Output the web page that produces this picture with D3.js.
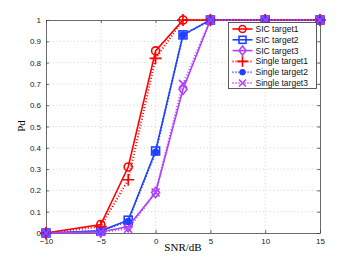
<!DOCTYPE html>
<html>
<head>
<meta charset="utf-8">
<script src="https://cdn.jsdelivr.net/npm/d3@7"></script>
<style>
  body { margin: 0; background: #fff; }
  svg { display: block; }
</style>
</head>
<body>
<svg width="354" height="262"></svg>
<script>
const svg = d3.select('svg');

const snr = [-10, -5, -2.5, 0, 2.5, 5, 10, 15];
const sic1 = [0, 0.04, 0.31, 0.855, 1, 1, 1, 1];
const sic2 = [0, 0.01, 0.06, 0.385, 0.93, 1, 1, 1];
const sic3 = [0, 0.005, 0.03, 0.19, 0.675, 1, 1, 1];
const single1 = [0, 0.03, 0.25, 0.82, 1, 1, 1, 1];
const single2 = [0, 0.01, 0.055, 0.38, 0.93, 1, 1, 1];
const single3 = [0, 0.005, 0.02, 0.19, 0.70, 1, 1, 1];
const xTicks = [-10, -5, 0, 5, 10, 15];
const yTicks = [0, 0.1, 0.2, 0.3, 0.4, 0.5, 0.6, 0.7, 0.8, 0.9, 1];

const red = '#ff0000', blue = '#2040ff', purple = '#b040ff';

const series = [
  { name: 'SIC target1', vals: sic1, color: red, marker: 'circle', dash: null },
  { name: 'SIC target2', vals: sic2, color: blue, marker: 'square', dash: null },
  { name: 'SIC target3', vals: sic3, color: purple, marker: 'diamond', dash: null },
  { name: 'Single target1', vals: single1, color: red, marker: 'plus', dash: '1,2' },
  { name: 'Single target2', vals: single2, color: blue, marker: 'dot', dash: '1,2' },
  { name: 'Single target3', vals: single3, color: purple, marker: 'cross', dash: '1,2' },
];

const x = d3.scaleLinear().domain([-10, 15]).range([46, 320]);
const y = d3.scaleLinear().domain([0, 1]).range([233, 20]);

// grid
const grid = svg.append('g')
  .attr('stroke', '#c8c8c8')
  .attr('stroke-width', 0.8)
  .attr('stroke-dasharray', '1,2.5');
grid.selectAll('.gx').data(xTicks.slice(1, -1)).enter().append('line')
  .attr('x1', d => x(d)).attr('x2', d => x(d))
  .attr('y1', y(0)).attr('y2', y(1));
grid.selectAll('.gy').data(yTicks.slice(1, -1)).enter().append('line')
  .attr('y1', d => y(d)).attr('y2', d => y(d))
  .attr('x1', x(-10)).attr('x2', x(15));

// axes with inward ticks
const fmt = d => d === 0 ? '0' : d3.format('')(d);
const axB = svg.append('g').attr('transform', `translate(0,${y(0)})`)
  .call(d3.axisBottom(x).tickValues(xTicks).tickSizeInner(-3).tickSizeOuter(0).tickPadding(5).tickFormat(fmt));
const axT = svg.append('g').attr('transform', `translate(0,${y(1)})`)
  .call(d3.axisTop(x).tickValues(xTicks).tickSizeInner(-3).tickSizeOuter(0).tickFormat(''));
const axL = svg.append('g').attr('transform', `translate(${x(-10)},0)`)
  .call(d3.axisLeft(y).tickValues(yTicks).tickSizeInner(-3).tickSizeOuter(0).tickPadding(5).tickFormat(fmt));
const axR = svg.append('g').attr('transform', `translate(${x(15)},0)`)
  .call(d3.axisRight(y).tickValues(yTicks).tickSizeInner(-3).tickSizeOuter(0).tickFormat(''));
[axB, axT, axL, axR].forEach(a => {
  a.selectAll('path, line').attr('stroke', '#444').attr('stroke-width', 0.8);
  a.selectAll('text').attr('fill', '#222')
    .style('font-family', 'Liberation Sans, Arial, sans-serif').style('font-size', '8px');
});

// marker drawing
function drawMarker(g, m, color, s) {
  if (m === 'circle') {
    g.append('circle').attr('r', s).attr('fill', 'none').attr('stroke', color).attr('stroke-width', 1.6);
  } else if (m === 'square') {
    g.append('rect').attr('x', -s).attr('y', -s).attr('width', 2 * s).attr('height', 2 * s)
      .attr('fill', 'none').attr('stroke', color).attr('stroke-width', 1.6);
  } else if (m === 'diamond') {
    g.append('path').attr('d', `M0,${-s * 1.3}L${s},0L0,${s * 1.3}L${-s},0Z`)
      .attr('fill', 'none').attr('stroke', color).attr('stroke-width', 1.6);
  } else if (m === 'plus') {
    g.append('path').attr('d', `M${-s * 1.5},0H${s * 1.5}M0,${-s * 1.5}V${s * 1.5}`)
      .attr('stroke', color).attr('stroke-width', 1.6);
  } else if (m === 'dot') {
    g.append('circle').attr('r', s * 0.9).attr('fill', color);
  } else if (m === 'cross') {
    g.append('path').attr('d', `M${-s},${-s}L${s},${s}M${-s},${s}L${s},${-s}`)
      .attr('stroke', color).attr('stroke-width', 1.6);
  }
}

const line = d3.line().x((d, i) => x(snr[i])).y(d => y(d));

series.forEach(s => {
  const g = svg.append('g');
  g.append('path').datum(s.vals)
    .attr('d', line)
    .attr('fill', 'none')
    .attr('stroke', s.color)
    .attr('stroke-width', s.dash ? 2 : 1.6)
    .attr('stroke-dasharray', s.dash);
  s.vals.forEach((v, i) => {
    const mg = g.append('g').attr('transform', `translate(${x(snr[i])},${y(v)})`);
    drawMarker(mg, s.marker, s.color, 4);
  });
});

// axis labels
svg.append('text')
  .attr('x', 183).attr('y', 251)
  .attr('text-anchor', 'middle')
  .style('font-family', 'Liberation Serif, Times New Roman, serif')
  .style('font-size', '11px')
  .text('SNR/dB');
svg.append('text')
  .attr('transform', 'translate(25,126) rotate(-90)')
  .attr('text-anchor', 'middle')
  .style('font-family', 'Liberation Serif, Times New Roman, serif')
  .style('font-size', '11px')
  .text('Pd');

// legend
const lg = svg.append('g').attr('transform', 'translate(228.5,22.5)');
lg.append('rect').attr('width', 88).attr('height', 66)
  .attr('fill', '#fff').attr('stroke', '#333').attr('stroke-width', 0.8);
series.forEach((s, i) => {
  const row = lg.append('g').attr('transform', `translate(0,${6.5 + i * 10.8})`);
  row.append('line').attr('x1', 4).attr('x2', 24)
    .attr('stroke', s.color).attr('stroke-width', s.dash ? 2 : 1.6)
    .attr('stroke-dasharray', s.dash);
  drawMarker(row.append('g').attr('transform', 'translate(14,0)'), s.marker, s.color, 3.5);
  row.append('text').attr('x', 27).attr('y', 3)
    .style('font-family', 'Liberation Sans, Arial, sans-serif')
    .style('font-size', '8.5px')
    .attr('fill', '#111')
    .text(s.name);
});
</script>
</body>
</html>
